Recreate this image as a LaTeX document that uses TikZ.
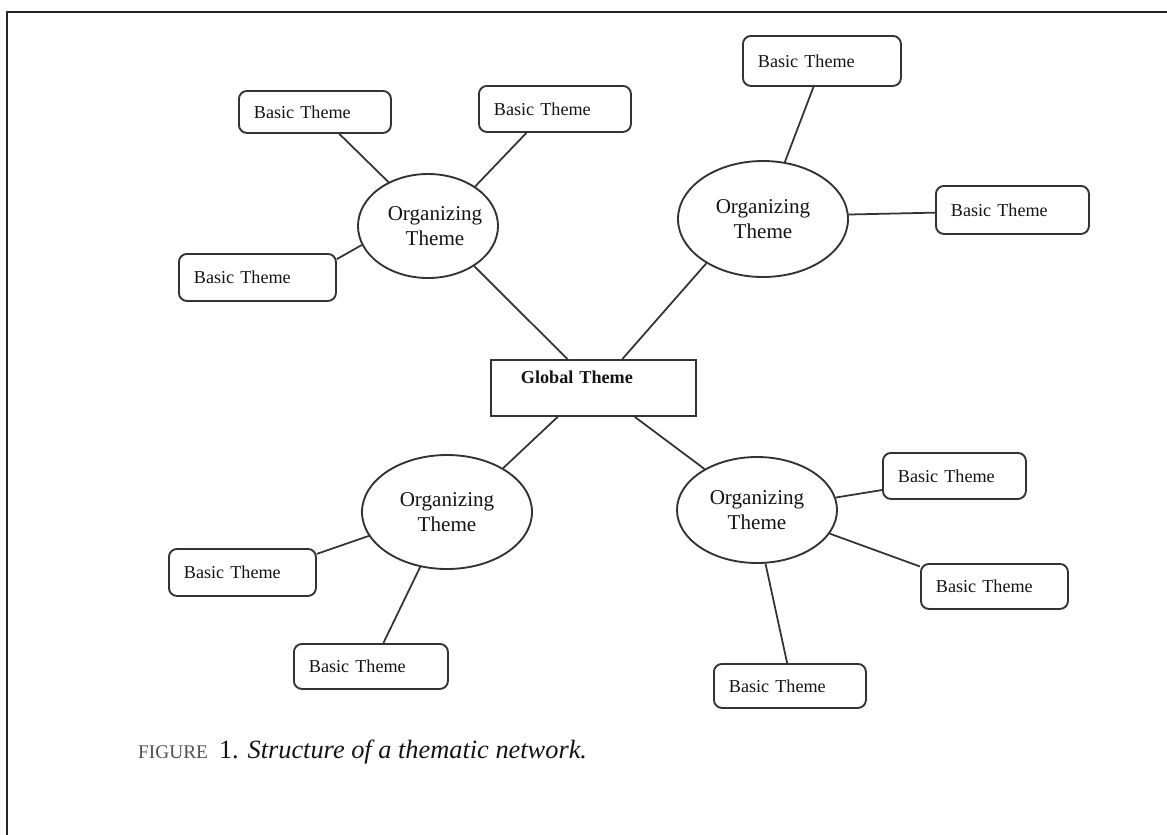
\documentclass[tikz,border=0pt]{standalone}
\usepackage{fontspec}
\setmainfont{Liberation Serif}
\usetikzlibrary{shapes.geometric}

% one drawing unit = one pixel of the finished figure
\def\pxu{0.03cm}

\definecolor{inkline}{HTML}{333333}
\definecolor{inktext}{HTML}{141414}
\definecolor{capgray}{HTML}{505050}

\tikzset{
  frameline/.style={line width=2.4pt, draw=black!85},
  basic/.style 2 args={draw=inkline, line width=1.6pt, rounded corners=0.24cm,
    anchor=north west, align=left, inner ysep=0pt, inner xsep={15*\pxu},
    text width={(#1-30)*\pxu}, minimum height={#2*\pxu},
    font=\fontsize{15.5}{18}\selectfont, text=inktext},
  organizing/.style 2 args={ellipse, draw=inkline, line width=1.6pt,
    inner ysep=0pt, inner xsep={-20*\pxu},
    minimum width={#1*\pxu}, minimum height={#2*\pxu}, align=center,
    font=\fontsize{18}{21}\selectfont, text=inktext},
  globalbox/.style={draw=inkline, line width=1.6pt, anchor=north west,
    inner ysep=0pt, inner xsep={30*\pxu}, align=left,
    text width={145*\pxu}, text height={24*\pxu}, text depth={32*\pxu},
    font=\fontsize{15.5}{18}\selectfont\bfseries, text=inktext},
  link/.style={draw=inkline, line width=1.5pt},
  caption/.style={anchor=base west, inner sep=0pt, text=inktext,
    font=\fontsize{22.5}{26}\selectfont}
}

\begin{document}
\begin{tikzpicture}[x=\pxu, y=-\pxu]
  \useasboundingbox (0,0) rectangle (1167,835);
  \clip (0,0) rectangle (1167,835);

  % page frame, running off the right and bottom edges
  \draw[frameline] (7,12) rectangle (1200,870);

  % global theme
  \node[globalbox] (G) at (490,359) {Global Theme};

  % organizing themes
  \node[organizing={140}{104}] (E1) at (428,226) {\hspace*{0.42cm}Organizing\\\hspace*{0.42cm}Theme};
  \node[organizing={170}{116}] (E2) at (763,219) {Organizing\\Theme};
  \node[organizing={170}{114}] (E3) at (447,512) {Organizing\\Theme};
  \node[organizing={160}{106}] (E4) at (757,510) {Organizing\\Theme};

  % basic themes
  \node[basic={152}{42}] (B1)  at (238,90)  {Basic Theme};
  \node[basic={152}{46}] (B2)  at (478,85)  {Basic Theme};
  \node[basic={157}{47}] (B3)  at (178,253) {Basic Theme};
  \node[basic={158}{50}] (B4)  at (742,35)  {Basic Theme};
  \node[basic={153}{48}] (B5)  at (935,185) {Basic Theme};
  \node[basic={143}{46}] (B6)  at (882,452) {Basic Theme};
  \node[basic={147}{45}] (B7)  at (920,563) {Basic Theme};
  \node[basic={152}{44}] (B8)  at (713,663) {Basic Theme};
  \node[basic={147}{47}] (B9)  at (168,548) {Basic Theme};
  \node[basic={154}{45}] (B10) at (293,643) {Basic Theme};

  % global theme to organizing themes
  \draw[link] (G.132.3) -- (E1.-41.5);
  \draw[link] (G.45.5)  -- (E2.218.4);
  \draw[link] (G.219)   -- (E3.38.2);
  \draw[link] (G.-35.3) -- (E4.142.6);

  % organizing themes to basic themes
  \draw[link] (E1.132)   -- (B1.-42.4);
  \draw[link] (E1.40)    -- (B2.220.4);
  \draw[link] (E1.196)   -- (B3.13.3);
  \draw[link] (E2.69.6)  -- (B4.252);
  \draw[link] (E2.3.4)   -- (B5.182.2);
  \draw[link] (E3.197.6) -- (B9.14.7);
  \draw[link] (E3.244.7) -- (B10.62);
  \draw[link] (E4.9.5)   -- (B6.191.1);
  \draw[link] (E4.-18.2) -- (B7.165.9);
  \draw[link] (E4.-81.4) -- (B8.97.8);

  % caption
  \node[caption] (cap) at (138,758)
    {{\color{capgray}\fontsize{16.5}{20}\selectfont FIGURE}\, 1. \textit{Structure of a thematic network.}};
\end{tikzpicture}
\end{document}
